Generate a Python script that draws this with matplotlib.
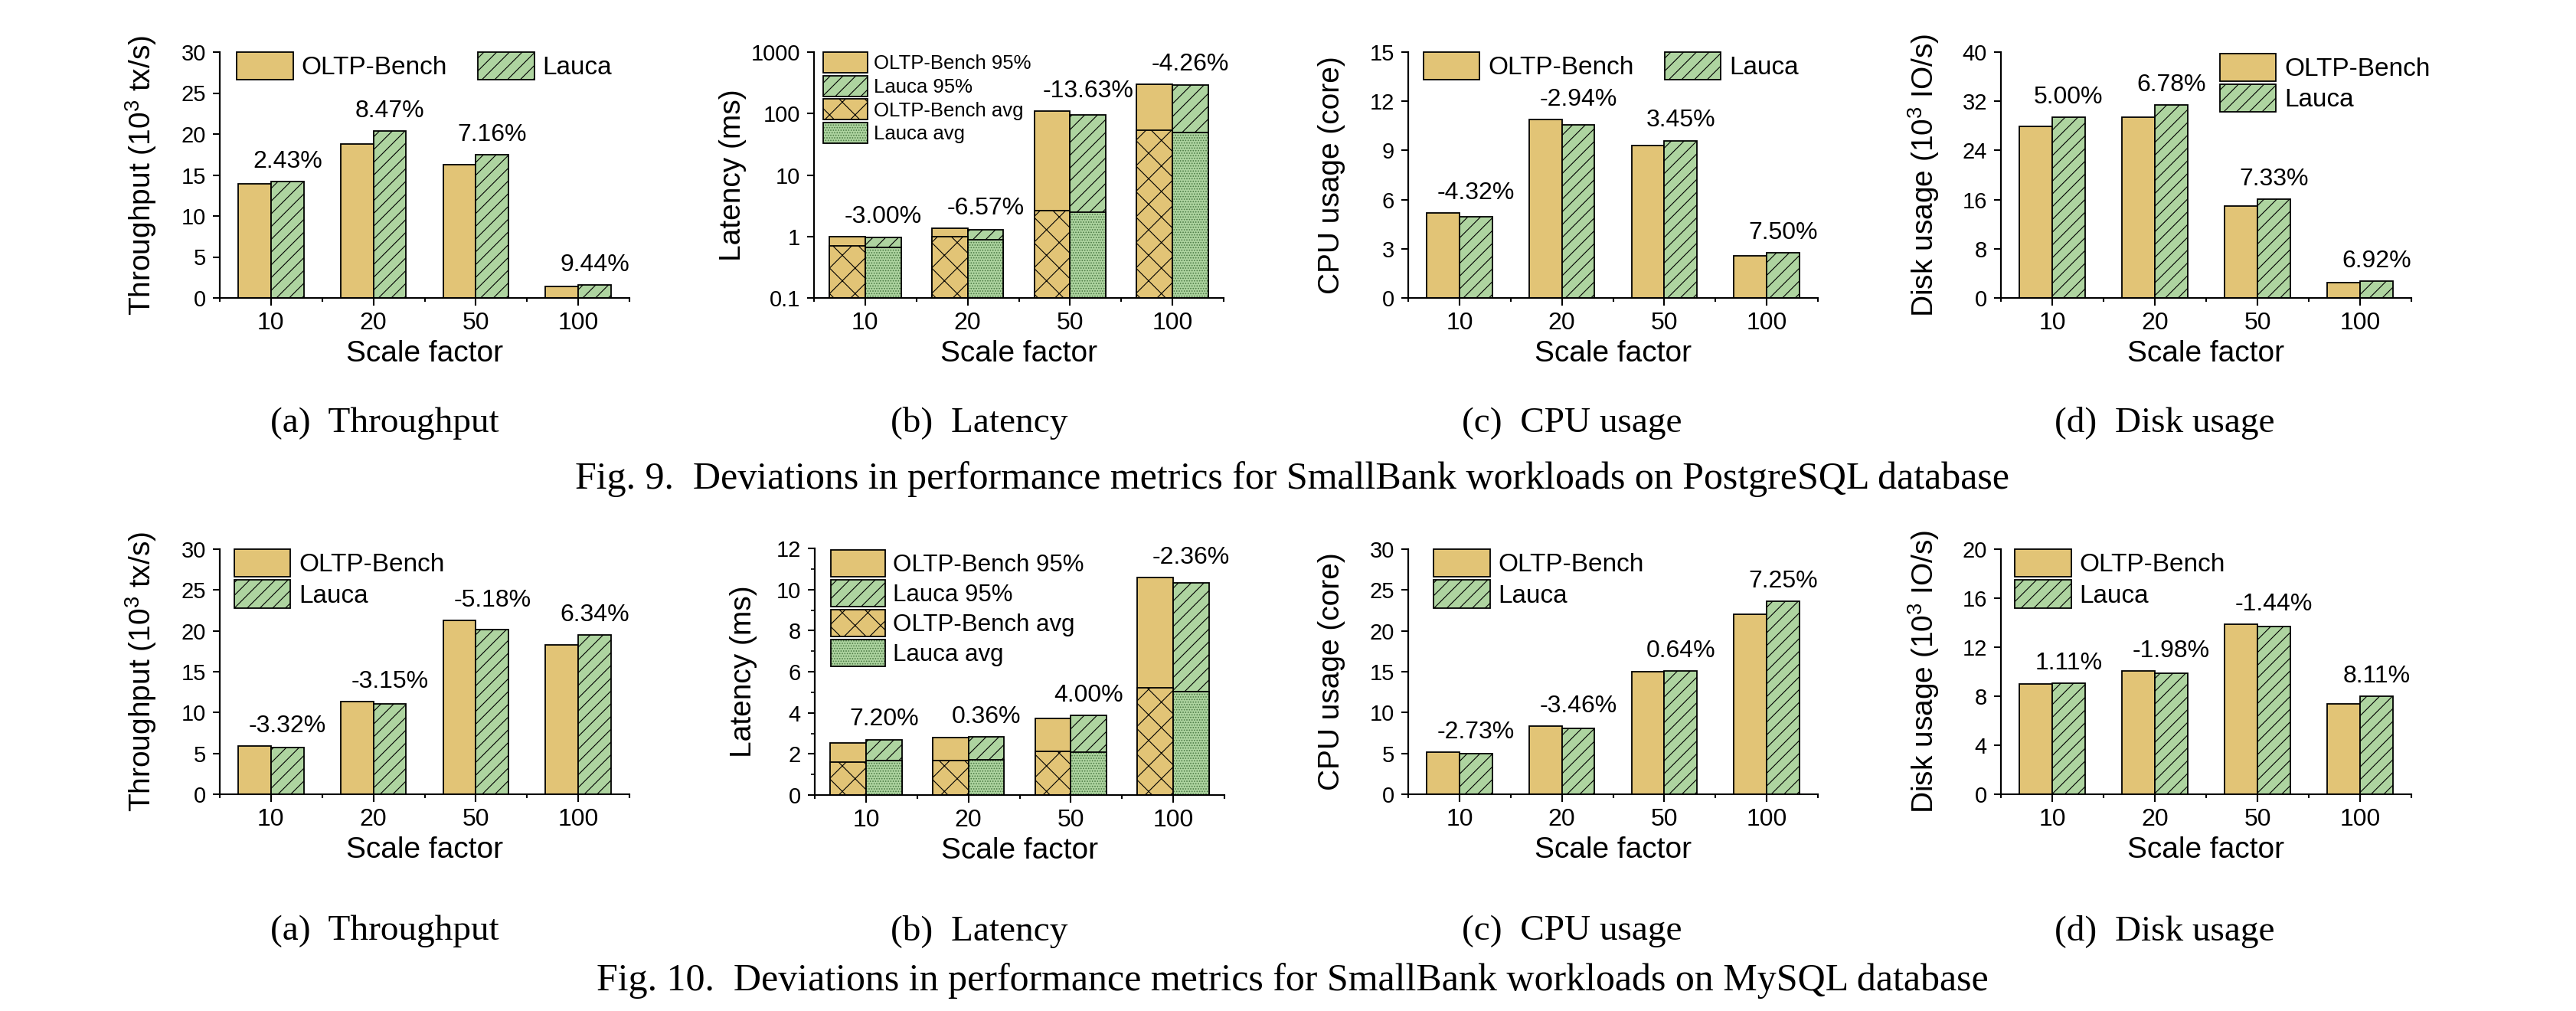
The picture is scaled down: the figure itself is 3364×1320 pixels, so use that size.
import numpy as np
import matplotlib
matplotlib.use('Agg')
import matplotlib.pyplot as plt
from matplotlib.patches import Patch

scales = ['10', '20', '50', '100']

# Fig. 9: SmallBank on PostgreSQL
pg_tput_oltp = [13.9, 18.8, 16.3, 1.43]
pg_tput_lauca = [14.24, 20.39, 17.47, 1.565]
pg_tput_dev = ['2.43%', '8.47%', '7.16%', '9.44%']

pg_lat95_oltp = [1.0, 1.36, 111, 302]
pg_lat95_lauca = [0.97, 1.27, 95.9, 289]
pg_latavg_oltp = [0.70, 0.98, 2.66, 53]
pg_latavg_lauca = [0.67, 0.89, 2.49, 49.7]
pg_lat_dev = ['-3.00%', '-6.57%', '-13.63%', '-4.26%']

pg_cpu_oltp = [5.19, 10.87, 9.28, 2.57]
pg_cpu_lauca = [4.97, 10.55, 9.60, 2.76]
pg_cpu_dev = ['-4.32%', '-2.94%', '3.45%', '7.50%']

pg_disk_oltp = [27.95, 29.44, 14.99, 2.53]
pg_disk_lauca = [29.35, 31.44, 16.09, 2.71]
pg_disk_dev = ['5.00%', '6.78%', '7.33%', '6.92%']

# Fig. 10: SmallBank on MySQL
my_tput_oltp = [5.92, 11.38, 21.27, 18.3]
my_tput_lauca = [5.74, 11.02, 20.17, 19.46]
my_tput_dev = ['-3.32%', '-3.15%', '-5.18%', '6.34%']

my_lat95_oltp = [2.52, 2.81, 3.74, 10.57]
my_lat95_lauca = [2.70, 2.82, 3.89, 10.32]
my_latavg_oltp = [1.61, 1.69, 2.11, 5.23]
my_latavg_lauca = [1.68, 1.71, 2.09, 5.04]
my_lat_dev = ['7.20%', '0.36%', '4.00%', '-2.36%']

my_cpu_oltp = [5.11, 8.33, 15.03, 22.05]
my_cpu_lauca = [4.97, 8.04, 15.13, 23.65]
my_cpu_dev = ['-2.73%', '-3.46%', '0.64%', '7.25%']

my_disk_oltp = [8.98, 10.08, 13.89, 7.38]
my_disk_lauca = [9.08, 9.88, 13.69, 7.98]
my_disk_dev = ['1.11%', '-1.98%', '-1.44%', '8.11%']

sub_captions = ['(a)  Throughput', '(b)  Latency', '(c)  CPU usage', '(d)  Disk usage']
fig9_caption = 'Fig. 9.  Deviations in performance metrics for SmallBank workloads on PostgreSQL database'
fig10_caption = 'Fig. 10.  Deviations in performance metrics for SmallBank workloads on MySQL database'

YELLOW = '#E2C476'
GREEN = '#AED4A0'
DOTS = '#4A7A44'
LW = 1.3

plt.rcParams['font.family'] = ['Liberation Sans', 'DejaVu Sans']
plt.rcParams['mathtext.fontset'] = 'custom'
plt.rcParams['mathtext.rm'] = 'Liberation Sans'
plt.rcParams['hatch.linewidth'] = 0.8

W, H = 3364, 1320
fig = plt.figure(figsize=(W / 100, H / 100), dpi=100)


def make_axes(left, right, top, bottom):
    return fig.add_axes([left / W, 1 - bottom / H, (right - left) / W, (bottom - top) / H])


def style_axes(ax, ylabel, ylab_x):
    ax.spines['top'].set_visible(False)
    ax.spines['right'].set_visible(False)
    ax.spines['left'].set_linewidth(1.6)
    ax.spines['bottom'].set_linewidth(1.5)
    ax.set_xlim(-0.5, 3.5)
    ax.set_xticks(range(len(scales)))
    ax.set_xticklabels(scales)
    ax.set_xticks(np.arange(-0.5, 4, 1), minor=True)
    ax.tick_params(axis='x', which='major', length=7, width=1.5, pad=6, labelsize=23)
    ax.tick_params(axis='x', which='minor', length=3.5, width=1.5)
    ax.tick_params(axis='y', which='major', length=6.5, width=1.5, pad=6.5, labelsize=21)
    ax.tick_params(axis='y', which='minor', length=3.5, width=1.2)
    ax.set_xlabel('Scale factor', fontsize=28, labelpad=5)
    ax.set_ylabel(ylabel, fontsize=28)
    ax.yaxis.set_label_coords(ylab_x, 0.5)


def add_devs(ax, xs, tops, dev):
    for x, top, d in zip(xs, tops, dev):
        ax.annotate(d, (x, top), xytext=(0, 8), textcoords='offset points',
                    ha='center', va='bottom', fontsize=23)


def pair_chart(ax, oltp, lauca, dev, ylabel, ymax, ystep, anchor, ncol, ylab_x):
    w = 0.32
    x = np.arange(len(scales))
    ax.bar(x - w / 2, oltp, w, color=YELLOW, edgecolor='black', linewidth=LW, label='OLTP-Bench')
    ax.bar(x + w / 2, lauca, w, color=GREEN, edgecolor='black', linewidth=LW, hatch='//', label='Lauca')
    add_devs(ax, x + w / 2, np.maximum(oltp, lauca), dev)
    ax.set_ylim(0, ymax)
    ax.set_yticks(np.arange(0, ymax + ystep / 2, ystep))
    style_axes(ax, ylabel, ylab_x)
    ax.legend(loc='upper left', bbox_to_anchor=anchor, ncol=ncol, frameon=False, fontsize=24,
              borderpad=0, borderaxespad=0, handlelength=2.2, handleheight=1.3,
              handletextpad=0.33, labelspacing=0.12, columnspacing=1.2)


def latency_chart(ax, p95_o, p95_l, avg_o, avg_l, dev, log, anchor, fsize, hlen, hhgt, lspace, ylab_x):
    w = 0.35
    x = np.arange(len(scales))
    if log:
        ax.set_yscale('log')
    ax.bar(x - w / 2, p95_o, w, color=YELLOW, edgecolor='black', linewidth=LW)
    ax.bar(x + w / 2, p95_l, w, color=GREEN, edgecolor='black', linewidth=LW, hatch='//')
    ax.bar(x - w / 2, avg_o, w, color=YELLOW, edgecolor='black', linewidth=LW, hatch='x')
    ax.bar(x + w / 2, avg_l, w, color=GREEN, edgecolor=DOTS, linewidth=0, hatch='.....')
    ax.bar(x + w / 2, avg_l, w, fill=False, edgecolor='black', linewidth=LW)
    add_devs(ax, x + w / 2, np.maximum(p95_o, p95_l), dev)
    if log:
        ax.set_ylim(0.1, 1000)
        ax.set_yticks([0.1, 1, 10, 100, 1000])
        ax.set_yticklabels(['0.1', '1', '10', '100', '1000'])
        ax.minorticks_off()
    else:
        ax.set_ylim(0, 12)
        ax.set_yticks(np.arange(0, 13, 2))
        ax.set_yticks(np.arange(1, 12, 2), minor=True)
    style_axes(ax, 'Latency (ms)', ylab_x)

    handles = [
        Patch(facecolor=YELLOW, edgecolor='black', linewidth=LW),
        Patch(facecolor=GREEN, edgecolor='black', linewidth=LW, hatch='//'),
        Patch(facecolor=YELLOW, edgecolor='black', linewidth=LW, hatch='x'),
        (Patch(facecolor=GREEN, edgecolor=DOTS, linewidth=0, hatch='.....'),
         Patch(fill=False, edgecolor='black', linewidth=LW)),
    ]
    labels = ['OLTP-Bench 95%', 'Lauca 95%', 'OLTP-Bench avg', 'Lauca avg']
    ax.legend(handles, labels, loc='upper left', bbox_to_anchor=anchor, frameon=False,
              fontsize=fsize, borderpad=0, borderaxespad=0, handlelength=hlen,
              handleheight=hhgt, handletextpad=0.3, labelspacing=lspace)


# Fig. 9 row
ax = make_axes(287, 822, 68, 389)
pair_chart(ax, pg_tput_oltp, pg_tput_lauca, pg_tput_dev, 'Throughput (10$^3$ tx/s)', 30, 5,
           (0.042, 1.0), 2, -0.15)

ax = make_axes(1063, 1598, 68, 389)
latency_chart(ax, pg_lat95_oltp, pg_lat95_lauca, pg_latavg_oltp, pg_latavg_lauca, pg_lat_dev,
              True, (0.0225, 1.0), 18.5, 2.26, 1.24, 0.14, -0.165)

ax = make_axes(1839, 2374, 68, 389)
pair_chart(ax, pg_cpu_oltp, pg_cpu_lauca, pg_cpu_dev, 'CPU usage (core)', 15, 3,
           (0.0375, 1.0), 2, -0.153)

ax = make_axes(2613, 3149, 68, 389)
pair_chart(ax, pg_disk_oltp, pg_disk_lauca, pg_disk_dev, 'Disk usage (10$^3$ IO/s)', 40, 8,
           (0.533, 0.995), 1, -0.145)

# Fig. 10 row
ax = make_axes(287, 822, 717, 1037)
pair_chart(ax, my_tput_oltp, my_tput_lauca, my_tput_dev, 'Throughput (10$^3$ tx/s)', 30, 5,
           (0.035, 1.0), 1, -0.15)

ax = make_axes(1064, 1599, 716, 1038)
latency_chart(ax, my_lat95_oltp, my_lat95_lauca, my_latavg_oltp, my_latavg_lauca, my_lat_dev,
              False, (0.04, 0.995), 22.5, 2.27, 1.35, 0.13, -0.14)

ax = make_axes(1839, 2374, 717, 1037)
pair_chart(ax, my_cpu_oltp, my_cpu_lauca, my_cpu_dev, 'CPU usage (core)', 30, 5,
           (0.062, 1.0), 1, -0.153)

ax = make_axes(2613, 3149, 717, 1037)
pair_chart(ax, my_disk_oltp, my_disk_lauca, my_disk_dev, 'Disk usage (10$^3$ IO/s)', 20, 4,
           (0.034, 1.0), 1, -0.145)

# captions
cap_x = [502, 1279, 2053, 2827]
for cx, cap in zip(cap_x, sub_captions):
    fig.text(cx / W, 1 - 553 / H, cap, ha='center', va='center', fontsize=34, family='Liberation Serif')
    fig.text(cx / W, 1 - 1216 / H, cap, ha='center', va='center', fontsize=34, family='Liberation Serif')
fig.text(1688 / W, 1 - 626 / H, fig9_caption, ha='center', va='center', fontsize=36, family='Liberation Serif')
fig.text(1688 / W, 1 - 1281 / H, fig10_caption, ha='center', va='center', fontsize=36, family='Liberation Serif')

fig.savefig('out.png', dpi=100)
